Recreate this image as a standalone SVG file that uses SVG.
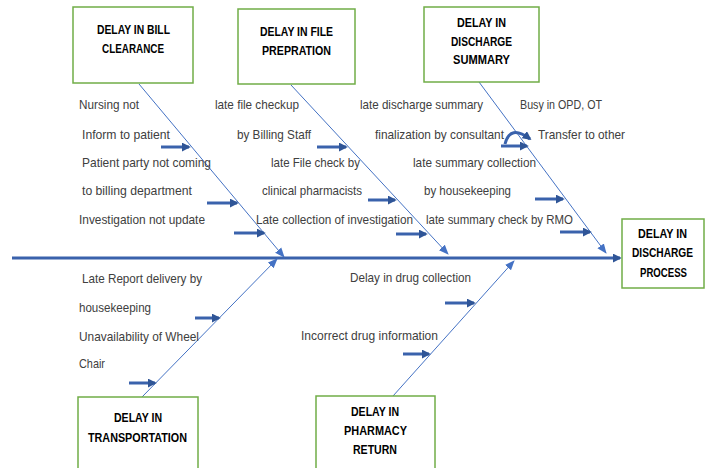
<svg xmlns="http://www.w3.org/2000/svg" width="707" height="468" viewBox="0 0 707 468">
<defs>
<style>
.box{fill:#fff;stroke:#70AD47;stroke-width:1.5}
.bt{font-family:"Liberation Sans",Arial,sans-serif;font-weight:bold;font-size:12.5px;fill:#000;text-anchor:middle}
.lt{font-family:"Liberation Sans",Arial,sans-serif;font-size:13px;fill:#404040}
.bone{stroke:#4472C4;stroke-width:1;fill:none;marker-end:url(#thin)}
.sub{stroke:#3A62AC;stroke-width:3;fill:none;marker-end:url(#thick)}
.spine{stroke:#3A62AC;stroke-width:3;fill:none;marker-end:url(#main)}
</style>
<marker id="thin" viewBox="0 0 10 10" refX="9" refY="5" markerWidth="10" markerHeight="10" markerUnits="userSpaceOnUse" orient="auto">
<path d="M0,1 L10,5 L0,9 Z" fill="#4472C4"/>
</marker>
<marker id="thick" viewBox="0 0 10 10" refX="8" refY="5" markerWidth="3" markerHeight="3" orient="auto">
<path d="M0,0 L10,5 L0,10 Z" fill="#2F5597"/>
</marker>
<marker id="main" viewBox="0 0 10 10" refX="8" refY="5" markerWidth="3" markerHeight="3" orient="auto">
<path d="M0,0 L10,5 L0,10 Z" fill="#2F5597"/>
</marker>
</defs>
<rect width="707" height="468" fill="#fff"/>

<g id="connectors">
<line class="spine" x1="12" y1="258" x2="620" y2="258"/>
<line class="bone" x1="139" y1="84" x2="284" y2="257"/>
<line class="bone" x1="291" y1="85" x2="448" y2="254"/>
<line class="bone" x1="479" y1="82" x2="606" y2="253"/>
<line class="bone" x1="142" y1="397" x2="277" y2="259"/>
<line class="bone" x1="393" y1="396" x2="514" y2="261"/>
<line class="sub" x1="161" y1="147" x2="189" y2="147"/>
<line class="sub" x1="207" y1="203" x2="237" y2="203"/>
<line class="sub" x1="234" y1="233" x2="264" y2="233"/>
<line class="sub" x1="317" y1="147" x2="346" y2="147"/>
<line class="sub" x1="368" y1="200" x2="395" y2="200"/>
<line class="sub" x1="396" y1="234" x2="426" y2="234"/>
<line class="sub" x1="501" y1="146" x2="527" y2="146"/>
<path class="sub" d="M505,144 Q510,124 530,139"/>
<line class="sub" x1="535" y1="199" x2="563" y2="199"/>
<line class="sub" x1="560" y1="232" x2="590" y2="232"/>
<line class="sub" x1="195" y1="318" x2="219" y2="318"/>
<line class="sub" x1="129" y1="383" x2="155" y2="383"/>
<line class="sub" x1="445" y1="303" x2="474" y2="303"/>
<line class="sub" x1="403" y1="354" x2="429" y2="354"/>
</g>

<g id="node-bill">
<rect class="box" x="73" y="7" width="120" height="76"/>
<text class="bt" x="133.5" y="34" textLength="73" lengthAdjust="spacingAndGlyphs">DELAY IN BILL</text>
<text class="bt" x="133" y="53" textLength="62" lengthAdjust="spacingAndGlyphs">CLEARANCE</text>
</g>
<g id="node-file">
<rect class="box" x="238" y="9" width="117" height="75"/>
<text class="bt" x="296.5" y="36" textLength="73" lengthAdjust="spacingAndGlyphs">DELAY IN FILE</text>
<text class="bt" x="296.5" y="55" textLength="69" lengthAdjust="spacingAndGlyphs">PREPRATION</text>
</g>
<g id="node-summary">
<rect class="box" x="424" y="7" width="115" height="75"/>
<text class="bt" x="481.5" y="27" textLength="49" lengthAdjust="spacingAndGlyphs">DELAY IN</text>
<text class="bt" x="481.5" y="46" textLength="61" lengthAdjust="spacingAndGlyphs">DISCHARGE</text>
<text class="bt" x="481.5" y="64" textLength="57" lengthAdjust="spacingAndGlyphs">SUMMARY</text>
</g>
<g id="node-process">
<rect class="box" x="622" y="219" width="82" height="69"/>
<text class="bt" x="662.5" y="238" textLength="49" lengthAdjust="spacingAndGlyphs">DELAY IN</text>
<text class="bt" x="662.5" y="257" textLength="61" lengthAdjust="spacingAndGlyphs">DISCHARGE</text>
<text class="bt" x="663.5" y="277" textLength="47" lengthAdjust="spacingAndGlyphs">PROCESS</text>
</g>
<g id="node-transport">
<rect class="box" x="78" y="397" width="120" height="80"/>
<text class="bt" x="138" y="422" textLength="48" lengthAdjust="spacingAndGlyphs">DELAY IN</text>
<text class="bt" x="137.5" y="442" textLength="99" lengthAdjust="spacingAndGlyphs">TRANSPORTATION</text>
</g>
<g id="node-pharmacy">
<rect class="box" x="316" y="396" width="119" height="80"/>
<text class="bt" x="375" y="416" textLength="48" lengthAdjust="spacingAndGlyphs">DELAY IN</text>
<text class="bt" x="375.5" y="435" textLength="63" lengthAdjust="spacingAndGlyphs">PHARMACY</text>
<text class="bt" x="375" y="454" textLength="44" lengthAdjust="spacingAndGlyphs">RETURN</text>
</g>

<g id="labels">
<text class="lt" x="79" y="109" textLength="60" lengthAdjust="spacingAndGlyphs">Nursing not</text>
<text class="lt" x="82" y="139" textLength="88" lengthAdjust="spacingAndGlyphs">Inform to patient</text>
<text class="lt" x="82" y="167" textLength="129" lengthAdjust="spacingAndGlyphs">Patient party not coming</text>
<text class="lt" x="82" y="195" textLength="110" lengthAdjust="spacingAndGlyphs">to billing department</text>
<text class="lt" x="79" y="224" textLength="126" lengthAdjust="spacingAndGlyphs">Investigation not update</text>
<text class="lt" x="215" y="109" textLength="84" lengthAdjust="spacingAndGlyphs">late file checkup</text>
<text class="lt" x="237" y="139" textLength="74" lengthAdjust="spacingAndGlyphs">by Billing Staff</text>
<text class="lt" x="271" y="167" textLength="89" lengthAdjust="spacingAndGlyphs">late File check by</text>
<text class="lt" x="262" y="195" textLength="100" lengthAdjust="spacingAndGlyphs">clinical pharmacists</text>
<text class="lt" x="256" y="224" textLength="157" lengthAdjust="spacingAndGlyphs">Late collection of investigation</text>
<text class="lt" x="360" y="109" textLength="123" lengthAdjust="spacingAndGlyphs">late discharge summary</text>
<text class="lt" x="375" y="139" textLength="129" lengthAdjust="spacingAndGlyphs">finalization by consultant</text>
<text class="lt" x="520" y="109" textLength="82" lengthAdjust="spacingAndGlyphs">Busy in OPD, OT</text>
<text class="lt" x="538" y="139" textLength="87" lengthAdjust="spacingAndGlyphs">Transfer to other</text>
<text class="lt" x="413" y="167" textLength="123" lengthAdjust="spacingAndGlyphs">late summary collection</text>
<text class="lt" x="424" y="195" textLength="87" lengthAdjust="spacingAndGlyphs">by housekeeping</text>
<text class="lt" x="426" y="224" textLength="147" lengthAdjust="spacingAndGlyphs">late summary check by RMO</text>
<text class="lt" x="82" y="283" textLength="120" lengthAdjust="spacingAndGlyphs">Late Report delivery by</text>
<text class="lt" x="79" y="312" textLength="72" lengthAdjust="spacingAndGlyphs">housekeeping</text>
<text class="lt" x="79" y="341" textLength="120" lengthAdjust="spacingAndGlyphs">Unavailability of Wheel</text>
<text class="lt" x="79" y="368" textLength="26" lengthAdjust="spacingAndGlyphs">Chair</text>
<text class="lt" x="350" y="282" textLength="121" lengthAdjust="spacingAndGlyphs">Delay in drug collection</text>
<text class="lt" x="301" y="340" textLength="137" lengthAdjust="spacingAndGlyphs">Incorrect drug information</text>
</g>
</svg>
